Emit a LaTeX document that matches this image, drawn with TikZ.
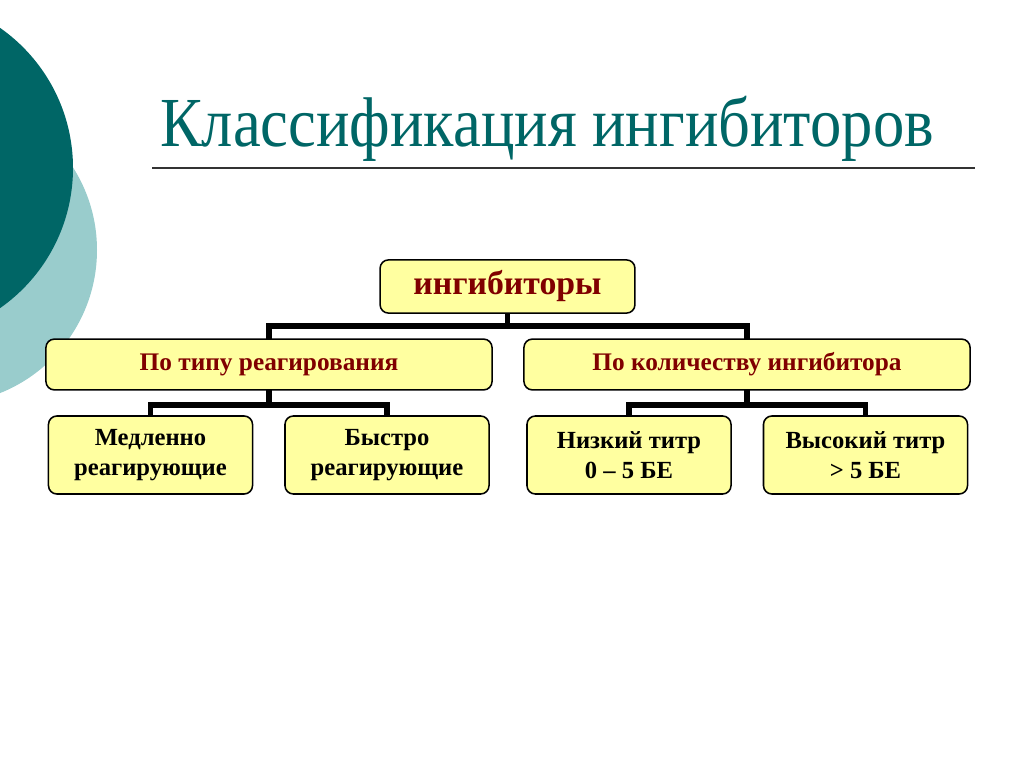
\documentclass[tikz,border=0pt]{standalone}
\usepackage{fontspec}
\setmainfont{Liberation Serif}
\definecolor{tealdark}{RGB}{0,102,102}
\definecolor{teallight}{RGB}{153,204,204}
\definecolor{boxfill}{RGB}{255,255,160}
\definecolor{darkred}{RGB}{128,0,0}

\begin{document}
\begin{tikzpicture}[x=0.025cm, y=-0.025cm,
  box/.style={draw=black, line width=1.1pt, fill=boxfill, rounded corners=6pt,
    inner sep=0pt, outer sep=0pt, align=center, font=\bfseries},
  conn/.style={line width=4.2pt}]
  \useasboundingbox (0,0) rectangle (1024,767);
  % фоновые круги слева
  \begin{scope}
    \clip (0,0) rectangle (1024,767);
    \fill[teallight] (-57,250) circle[radius=154];
    \fill[tealdark] (-98,168) circle[radius=171];
  \end{scope}
  % заголовок
  \node[anchor=base, text=tealdark, xscale=0.89, font=\fontsize{50}{56}\selectfont] (title) at (547,147) {Классификация ингибиторов};
  \draw[line width=0.9pt, black!80] (152,168) -- (975,168);
  % уровни
  \node[box, minimum width=6.37cm, minimum height=1.33cm, text=darkred,
    font=\bfseries\fontsize{24}{28}\selectfont] (root) at (507.5,286.5) {ингибиторы};
  \node[box, minimum width=11.15cm, minimum height=1.27cm, text=darkred,
    font=\bfseries\fontsize{18}{21}\selectfont] (type) at (269,364.5) {\raisebox{-2pt}{По типу реагирования}};
  \node[box, minimum width=11.15cm, minimum height=1.27cm, text=darkred,
    font=\bfseries\fontsize{18}{21}\selectfont] (amount) at (747,364.5) {\raisebox{-2pt}{По количеству ингибитора}};
  \node[box, minimum width=5.1cm, minimum height=1.95cm,
    font=\bfseries\fontsize{17.5}{21.5}\selectfont] (slow) at (150.5,455) {Медленно\\реагирующие};
  \node[box, minimum width=5.1cm, minimum height=1.95cm,
    font=\bfseries\fontsize{17.5}{21.5}\selectfont] (fast) at (387,455) {Быстро\\реагирующие};
  \node[box, minimum width=5.1cm, minimum height=1.95cm,
    font=\bfseries\fontsize{17.5}{21.5}\selectfont] (low) at (629,455) {Низкий титр\\0 -- 5 БЕ};
  \node[box, minimum width=5.1cm, minimum height=1.95cm,
    font=\bfseries\fontsize{17.5}{21.5}\selectfont] (high) at (865.5,455) {Высокий титр\\> 5 БЕ};
  % связи
  \draw[conn] (root.south) -- ++(0,13) -| (type.north);
  \draw[conn] (root.south) -- ++(0,13) -| (amount.north);
  \draw[conn] (type.south) -- ++(0,15) -| (slow.north);
  \draw[conn] (type.south) -- ++(0,15) -| (fast.north);
  \draw[conn] (amount.south) -- ++(0,15) -| (low.north);
  \draw[conn] (amount.south) -- ++(0,15) -| (high.north);
\end{tikzpicture}
\end{document}
